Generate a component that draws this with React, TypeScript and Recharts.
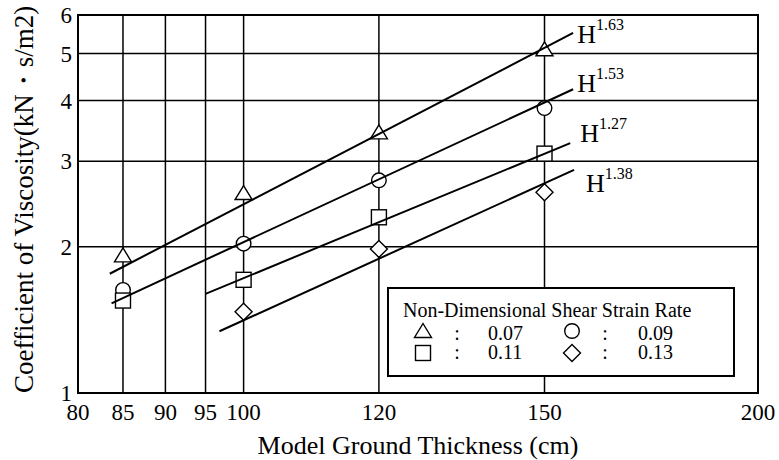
import React from "react";
import {
  ScatterChart,
  Scatter,
  XAxis,
  YAxis,
  CartesianGrid,
  ReferenceArea,
  ReferenceDot,
  Legend,
} from "recharts";

// measured data (log-log plot)
const thickness = [85, 100, 120, 150];
const rates = ["0.07", "0.09", "0.11", "0.13"];
const visc007 = [1.92, 2.58, 3.44, 5.1];
const visc009 = [1.63, 2.03, 2.74, 3.86];
const visc011 = [1.55, 1.71, 2.3, 3.11];
const visc013 = [null, 1.47, 1.98, 2.59];

// fitted power lines H^n
const fitStartX = [83.5, 83.7, 95.0, 96.8];
const fitStartY = [1.76, 1.53, 1.6, 1.34];
const fitEndX = [155.9, 155.9, 155.3, 156.1];
const fitEndY = [5.51, 4.22, 3.27, 2.88];
const exponents = ["1.63", "1.53", "1.27", "1.38"];

const xTicks = [80, 85, 90, 95, 100, 120, 150, 200];
const yTicks = [1, 2, 3, 4, 5, 6];

const FONT = '"Liberation Serif", "Times New Roman", serif';
const kinds = ["triangle", "circle", "square", "diamond"];
const seriesValues = [visc007, visc009, visc011, visc013];

// label offsets from the end of each fit line (px)
const labelOffset = [
  { dx: 4, dy: 10 },
  { dx: 4, dy: 3 },
  { dx: 10, dy: -1 },
  { dx: 12, dy: 22 },
];

const Marker = ({ kind, cx, cy }: { kind: string; cx: number; cy: number }) => {
  const st = { fill: "#fff", stroke: "#000", strokeWidth: 1.4 };
  if (kind === "triangle")
    return <polygon points={`${cx},${cy - 7.5} ${cx + 8.5},${cy + 6.5} ${cx - 8.5},${cy + 6.5}`} {...st} />;
  if (kind === "circle") return <circle cx={cx} cy={cy} r={7.3} {...st} />;
  if (kind === "square") return <rect x={cx - 7.5} y={cy - 7.5} width={15} height={15} {...st} />;
  return <polygon points={`${cx},${cy - 8.5} ${cx + 8.5},${cy} ${cx},${cy + 8.5} ${cx - 8.5},${cy}`} {...st} />;
};

const ExpLabel = (p: any) => {
  const { cx, cy, exp, dx, dy } = p;
  return (
    <text x={cx + dx} y={cy + dy} fontFamily={FONT} fontSize={26} fill="#000">
      H
      <tspan fontSize={16} dy={-13}>
        {exp}
      </tspan>
    </text>
  );
};

const XTitle = (p: any) => {
  const vb = p.viewBox || {};
  return (
    <text x={vb.x + vb.width / 2} y={vb.y + 61} textAnchor="middle" fontFamily={FONT} fontSize={26} fill="#000">
      Model Ground Thickness (cm)
    </text>
  );
};

const YTitle = (p: any) => {
  const vb = p.viewBox || {};
  const x = vb.x - 5;
  const y = vb.y + vb.height;
  return (
    <text x={x} y={y} transform={`rotate(-90, ${x}, ${y})`} fontFamily={FONT} fontSize={27} fill="#000">
      Coefficient of Viscosity(kN・s/m2)
    </text>
  );
};

const LegendBox = () => {
  const cols = [
    { sym: 36, colon: 70, val: 101 },
    { sym: 185, colon: 218, val: 251 },
  ];
  const rows = [
    { base: 53, sym: 44 },
    { base: 72, sym: 66 },
  ];
  return (
    <svg width={348} height={90} style={{ display: "block" }}>
      <rect x={1} y={1} width={346} height={88} fill="#fff" stroke="#000" strokeWidth={2} />
      <text x={16} y={30} fontFamily={FONT} fontSize={20} fill="#000">
        Non-Dimensional Shear Strain Rate
      </text>
      {rates.map((r, i) => {
        const c = cols[i % 2];
        const row = rows[Math.floor(i / 2)];
        return (
          <g key={r}>
            <Marker kind={kinds[i]} cx={c.sym} cy={row.sym} />
            <text x={c.colon} y={row.base} textAnchor="middle" fontFamily={FONT} fontSize={20}>
              :
            </text>
            <text x={c.val} y={row.base} fontFamily={FONT} fontSize={20}>
              {r}
            </text>
          </g>
        );
      })}
    </svg>
  );
};

export default function App() {
  const tickStyle = { fontFamily: FONT, fontSize: 23, fill: "#000" };
  return (
    <div style={{ position: "absolute", left: 0, top: 0, width: 779, height: 460, background: "#fff" }}>
      <ScatterChart width={779} height={460} margin={{ top: 15, right: 21, bottom: 37, left: 38 }}>
        <CartesianGrid stroke="#000" strokeWidth={1.5} />
        <XAxis
          dataKey="x"
          type="number"
          scale="log"
          domain={[80, 200]}
          ticks={xTicks}
          interval={0}
          allowDataOverflow
          height={30}
          tickLine={false}
          tickSize={0}
          tickMargin={11}
          axisLine={{ stroke: "#000", strokeWidth: 2 }}
          tick={tickStyle}
          label={<XTitle />}
        />
        <YAxis
          dataKey="y"
          type="number"
          scale="log"
          domain={[1, 6]}
          ticks={yTicks}
          interval={0}
          allowDataOverflow
          width={40}
          tickLine={false}
          tickSize={0}
          tickMargin={6}
          axisLine={{ stroke: "#000", strokeWidth: 2 }}
          tick={tickStyle}
          label={<YTitle />}
        />
        <ReferenceArea x1={80} x2={200} y1={1} y2={6} fill="none" stroke="#000" strokeWidth={2} />
        {seriesValues.map((vals, i) => (
          <Scatter
            key={rates[i]}
            name={rates[i]}
            data={thickness
              .map((t, j) => ({ x: t, y: vals[j] }))
              .filter((d) => d.y != null)}
            shape={(p: any) => <Marker kind={kinds[i]} cx={p.cx} cy={p.cy} />}
            isAnimationActive={false}
          />
        ))}
        {exponents.map((e, i) => (
          <Scatter
            key={"fit" + e}
            data={[
              { x: fitStartX[i], y: fitStartY[i] },
              { x: fitEndX[i], y: fitEndY[i] },
            ]}
            line={{ stroke: "#000", strokeWidth: 2 }}
            shape={() => <g />}
            legendType="none"
            isAnimationActive={false}
          />
        ))}
        {exponents.map((e, i) => (
          <ReferenceDot
            key={"lbl" + e}
            x={fitEndX[i]}
            y={fitEndY[i]}
            r={0}
            ifOverflow="visible"
            shape={(p: any) => <ExpLabel cx={p.cx} cy={p.cy} exp={e} {...labelOffset[i]} />}
          />
        ))}
        <Legend
          layout="horizontal"
          verticalAlign="middle"
          align="center"
          content={() => <LegendBox />}
          wrapperStyle={{ left: 387, top: 287, width: 348, height: 90 }}
        />
      </ScatterChart>
    </div>
  );
}
